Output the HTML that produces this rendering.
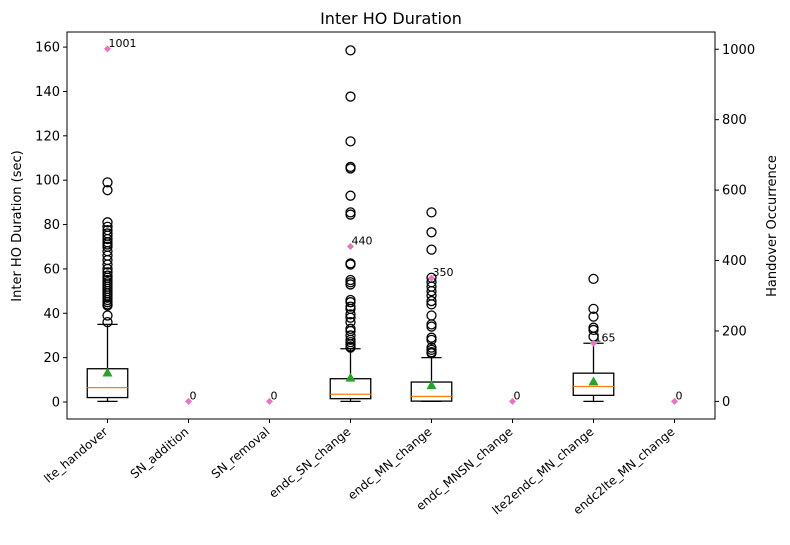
<!DOCTYPE html>
<html><head><meta charset="utf-8"><style>
body{margin:0;background:#fff;font-family:"Liberation Sans","DejaVu Sans",sans-serif}
svg text{font-family:"DejaVu Sans","Liberation Sans",sans-serif}
</style></head><body>
<svg id="chart" width="790" height="540" viewBox="0 0 790 540" xmlns="http://www.w3.org/2000/svg">
<rect width="790" height="540" fill="#fff"/>
<text x="391" y="24" text-anchor="middle" font-size="16">Inter HO Duration</text>
<text transform="translate(21,226) rotate(-90)" text-anchor="middle" font-size="13">Inter HO Duration (sec)</text>
<text transform="translate(776,226) rotate(-90)" text-anchor="middle" font-size="13">Handover Occurrence</text>
<g id="marks"></g>
<rect x="67" y="32" width="648" height="387" fill="none" stroke="#000" stroke-width="1"/>
</svg>
<script>
const categories=["lte_handover","SN_addition","SN_removal","endc_SN_change","endc_MN_change","endc_MNSN_change","lte2endc_MN_change","endc2lte_MN_change"];
const q1=[2,null,null,1.5,0.4,null,3,null];
const medians=[6.5,null,null,3.5,2.5,null,7,null];
const q3=[15,null,null,10.5,9,null,13,null];
const whiskerLow=[0.3,null,null,0.3,0.3,null,0.3,null];
const whiskerHigh=[35,null,null,24,20,null,26.5,null];
const means=[13.3,null,null,11,7.6,null,9.3,null];
const outliers=[
[99,95.5,81,79,77.5,76,75,73.5,72,71,70,68,66,64,62,60,58.5,57,56,55,54,53,52,51,50,49,48,47,46,45,44,43.5,39,36],
[],[],
[158.5,137.7,117.5,106,105.3,93,85.5,84.5,62.5,62,55,54,53,46,45,43,42,39.5,38,36,33,32,30,28,27,26,25,24.5],
[85.5,76.5,68.7,56,54,52,50,48,45.5,44,39,35,34,29,28,24.5,23.5,22.5,22],
[],
[55.5,42,38.5,33.5,32.5,29.5],
[]];
const counts=[1001,0,0,440,350,0,165,0];
const leftTicks=[0,20,40,60,80,100,120,140,160];
const rightTicks=[0,200,400,600,800,1000];

const L=67,R=715,T=32,B=419;
const yMin=-7.66,yMax=166.8, rMin=-50,rMax=1049;
const X=i=>L+(i+0.5)*(R-L)/categories.length;
const Y=v=>B-(v-yMin)/(yMax-yMin)*(B-T);
const YR=v=>B-(v-rMin)/(rMax-rMin)*(B-T);
const NS="http://www.w3.org/2000/svg";
const g=document.getElementById('marks');
function mk(tag,attrs,parent){const e=document.createElementNS(NS,tag);for(const k in attrs)e.setAttribute(k,attrs[k]);(parent||g).appendChild(e);return e;}

leftTicks.forEach(t=>{
 const l=mk('line',{x1:L-4,x2:L,y1:Y(t),y2:Y(t),stroke:'#000'});
 
 
 const tx=mk('text',{x:L-7,y:Y(t)+4.5,'text-anchor':'end','font-size':13});
 tx.textContent=t;
 
 
});
rightTicks.forEach(t=>{
 const l=mk('line',{x1:R,x2:R+4,y1:YR(t),y2:YR(t),stroke:'#000'});
 
 
 const tx=mk('text',{x:R+7,y:YR(t)+4.5,'font-size':13});
 tx.textContent=t;
 
 
});
const bw=(R-L)/categories.length*0.5;
categories.forEach((c,i)=>{
 const x=X(i);
 const tk=mk('line',{x1:x,x2:x,y1:B,y2:B+4,stroke:'#000'});
 
 
 const tx=mk('text',{transform:`translate(${x+1},${B+14}) rotate(-40)`,'text-anchor':'end','font-size':12});
 tx.textContent=c;
 
 
 if(q1[i]!==null){
  const bg=mk('g',{});
  
  
  mk('line',{x1:x,x2:x,y1:Y(whiskerLow[i]),y2:Y(q1[i]),stroke:'#000','stroke-width':1.3},bg);
  mk('line',{x1:x,x2:x,y1:Y(q3[i]),y2:Y(whiskerHigh[i]),stroke:'#000','stroke-width':1.3},bg);
  mk('line',{x1:x-bw/4,x2:x+bw/4,y1:Y(whiskerLow[i]),y2:Y(whiskerLow[i]),stroke:'#000','stroke-width':1.3},bg);
  mk('line',{x1:x-bw/4,x2:x+bw/4,y1:Y(whiskerHigh[i]),y2:Y(whiskerHigh[i]),stroke:'#000','stroke-width':1.3},bg);
  mk('rect',{x:x-bw/2,y:Y(q3[i]),width:bw,height:Y(q1[i])-Y(q3[i]),fill:'none',stroke:'#000','stroke-width':1.3},bg);
  mk('line',{x1:x-bw/2,x2:x+bw/2,y1:Y(medians[i]),y2:Y(medians[i]),stroke:'#ff7f0e','stroke-width':1.3},bg);
  outliers[i].forEach(v=>{
   const o=mk('circle',{cx:x,cy:Y(v),r:4.5,fill:'none',stroke:'#000','stroke-width':1.3});
   
   
  });
  const m=Y(means[i]);
  const tri=mk('polygon',{points:`${x},${m-5} ${x-5},${m+4} ${x+5},${m+4}`,fill:'#2ca02c'});
  
  
 }
 const cy=YR(counts[i]);
 const d=mk('polygon',{points:`${x},${cy-3.5} ${x+3.5},${cy} ${x},${cy+3.5} ${x-3.5},${cy}`,fill:'#e377c2'});
 
 
 const ct=mk('text',{x:x+1,y:cy-2,'font-size':11});
 ct.textContent=counts[i];
 
 
});
</script>
</body></html>
